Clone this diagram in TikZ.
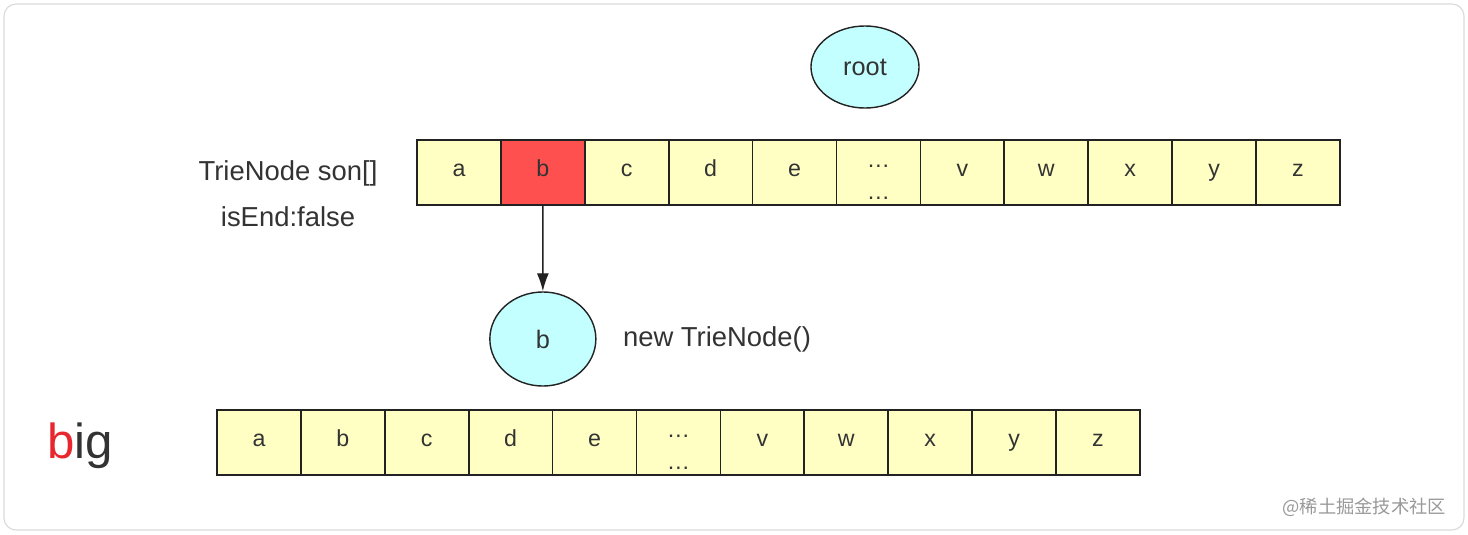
\documentclass[tikz,border=0pt]{standalone}
\usepackage{fontspec}
\setmainfont{Liberation Sans}
\newfontfamily\cjk{Noto Sans CJK SC}
\usetikzlibrary{arrows.meta,shapes.geometric}

\definecolor{inkgray}{HTML}{333333}
\definecolor{edgegray}{HTML}{222222}
\definecolor{cellyellow}{HTML}{FFFFC4}
\definecolor{cellred}{HTML}{FF5050}
\definecolor{nodecyan}{HTML}{C4FFFF}
\definecolor{framegray}{HTML}{DADADA}
\definecolor{bigred}{HTML}{E8262D}

\tikzset{
    cell/.style={draw=edgegray, line width=1.2pt, fill=cellyellow, minimum width=2.0975cm,
        minimum height=1.625cm, inner sep=0pt, text height=1ex, text depth=0pt, text=inkgray,
        font=\fontsize{16.5}{16}\selectfont},
    trie/.style={ellipse, draw=edgegray, line width=1pt, fill=nodecyan, inner sep=0pt,
        text=inkgray, font=\fontsize{18}{22}\selectfont},
    note/.style={text=inkgray, font=\fontsize{19.5}{23}\selectfont},
}

\newcommand{\gapcell}{\smash{\rlap{\raisebox{0.21cm}{\dots}}\raisebox{-0.59cm}{\dots}}}

\begin{document}
\begin{tikzpicture}[x=0.025cm, y=-0.025cm]
    % 外框
    \useasboundingbox (0,0) rectangle (1468,534);
    \draw[framegray, line width=0.8pt, rounded corners=0.3cm] (4,4) rectangle (1464,530);

    % 根节点
    \node[trie, minimum width=2.7cm, minimum height=2.05cm] (root) at (865,67) {root};

    % 根节点的 son[] 数组
    \foreach \ch/\fc [count=\i] in {a/cellyellow, b/cellred, c/cellyellow, d/cellyellow,
        e/cellyellow, \gapcell/cellyellow, v/cellyellow, w/cellyellow, x/cellyellow,
        y/cellyellow, z/cellyellow}
        \node[cell, fill=\fc] (t\i) at ({417+83.9*(\i-0.5)},172.5) {\ch};

    \node[note] (son) at (288,173) {TrieNode son[]};
    \node[note] (isend) at (288,217) {isEnd:false};

    % 新建的子节点 b
    \node[trie, minimum width=2.65cm, minimum height=2.35cm] (nb) at (542.85,339) {b};
    \draw[edgegray, line width=1pt, -{Latex[length=0.45cm, width=0.3cm]}] (t2.south) -- (nb.north);
    \node[note] (newnode) at (717,339) {new TrieNode()};

    % 单词 big
    \node[anchor=base, text=inkgray, font=\fontsize{35}{40}\selectfont] (word) at (80,458)
        {\textcolor{bigred}{b}ig};

    \foreach \ch [count=\i] in {a,b,c,d,e,\gapcell,v,w,x,y,z}
        \node[cell] (s\i) at ({217+83.9*(\i-0.5)},442.5) {\ch};

    % 水印
    \node[anchor=east, text=black!40, font=\cjk\fontsize{13}{16}\selectfont] (mark) at (1451,507)
        {@稀土掘金技术社区};
\end{tikzpicture}
\end{document}
